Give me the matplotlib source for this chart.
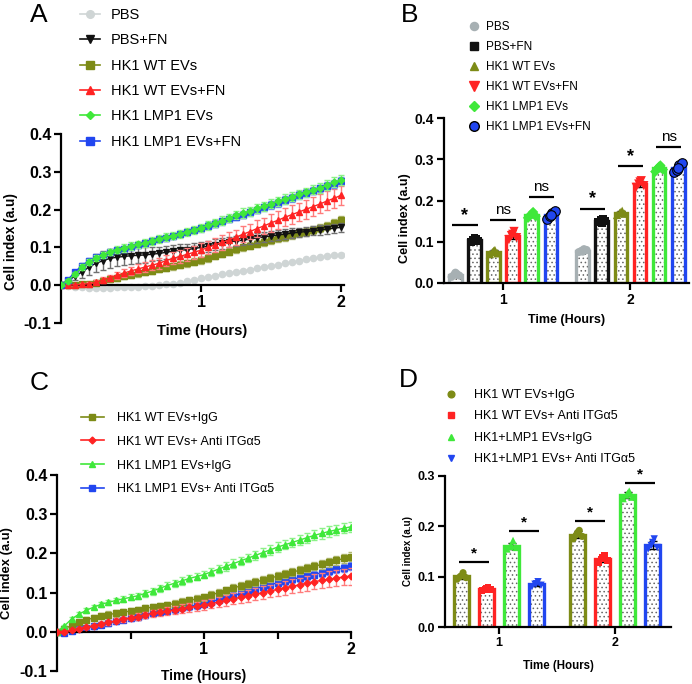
import numpy as np
import matplotlib
matplotlib.use('Agg')
import matplotlib.pyplot as plt
from matplotlib.lines import Line2D

plt.rcParams['font.family'] = ['Liberation Sans', 'DejaVu Sans']
plt.rcParams['axes.unicode_minus'] = False
plt.rcParams['hatch.linewidth'] = 0.6

# ---------------- data ----------------
TIME_H = [0.00, 0.05, 0.10, 0.15, 0.20, 0.25, 0.30, 0.35, 0.40, 0.45,
          0.50, 0.55, 0.60, 0.65, 0.70, 0.75, 0.80, 0.85, 0.90, 0.95,
          1.00, 1.05, 1.10, 1.15, 1.20, 1.25, 1.30, 1.35, 1.40, 1.45,
          1.50, 1.55, 1.60, 1.65, 1.70, 1.75, 1.80, 1.85, 1.90, 1.95, 2.00]

# Panel A
A_LABELS = ['PBS', 'PBS+FN', 'HK1 WT EVs', 'HK1 WT EVs+FN', 'HK1 LMP1 EVs', 'HK1 LMP1 EVs+FN']
A_PBS = [0.000, -0.003, -0.005, -0.006, -0.007, -0.007, -0.007, -0.007, -0.006, -0.006,
         -0.005, -0.004, -0.003, -0.002, 0.000, 0.002, 0.004, 0.006, 0.010, 0.014,
         0.018, 0.021, 0.025, 0.029, 0.032, 0.035, 0.038, 0.041, 0.045, 0.048,
         0.051, 0.054, 0.058, 0.061, 0.065, 0.068, 0.071, 0.074, 0.077, 0.079, 0.081]
A_PBS_ERR = [0.000, 0.002, 0.002, 0.002, 0.003, 0.003, 0.003, 0.003, 0.003, 0.003,
             0.003, 0.003, 0.003, 0.003, 0.003, 0.003, 0.003, 0.003, 0.003, 0.003,
             0.003, 0.003, 0.003, 0.003, 0.003, 0.003, 0.003, 0.003, 0.003, 0.003,
             0.003, 0.003, 0.003, 0.003, 0.003, 0.003, 0.003, 0.003, 0.003, 0.003, 0.003]
A_PBS_FN = [0.000, 0.012, 0.024, 0.035, 0.048, 0.058, 0.065, 0.071, 0.074, 0.076,
            0.078, 0.079, 0.080, 0.082, 0.084, 0.087, 0.090, 0.092, 0.094, 0.097,
            0.100, 0.103, 0.107, 0.111, 0.114, 0.117, 0.119, 0.122, 0.125, 0.128,
            0.130, 0.133, 0.135, 0.138, 0.140, 0.142, 0.144, 0.146, 0.148, 0.151, 0.153]
A_PBS_FN_ERR = [0.000, 0.005, 0.010, 0.015, 0.020, 0.024, 0.025, 0.025, 0.024, 0.023,
                0.022, 0.021, 0.020, 0.019, 0.018, 0.017, 0.017, 0.016, 0.016, 0.015,
                0.015, 0.015, 0.014, 0.014, 0.014, 0.014, 0.013, 0.013, 0.013, 0.013,
                0.013, 0.013, 0.013, 0.012, 0.012, 0.012, 0.012, 0.012, 0.012, 0.012, 0.012]
A_WT = [0.000, 0.000, 0.001, 0.002, 0.004, 0.007, 0.011, 0.016, 0.020, 0.024,
        0.028, 0.031, 0.034, 0.038, 0.042, 0.046, 0.050, 0.054, 0.058, 0.062,
        0.066, 0.071, 0.077, 0.083, 0.089, 0.095, 0.100, 0.105, 0.110, 0.115,
        0.119, 0.124, 0.128, 0.132, 0.137, 0.141, 0.146, 0.151, 0.157, 0.164, 0.172]
A_WT_ERR = [0.000, 0.002, 0.003, 0.004, 0.005, 0.006, 0.007, 0.008, 0.008, 0.008,
            0.008, 0.008, 0.008, 0.008, 0.008, 0.008, 0.009, 0.009, 0.009, 0.009,
            0.009, 0.009, 0.009, 0.009, 0.009, 0.009, 0.009, 0.009, 0.010, 0.010,
            0.010, 0.010, 0.010, 0.010, 0.010, 0.010, 0.010, 0.010, 0.010, 0.011, 0.011]
A_WT_FN = [0.000, 0.000, 0.001, 0.002, 0.004, 0.008, 0.014, 0.020, 0.026, 0.032,
           0.038, 0.043, 0.048, 0.053, 0.058, 0.065, 0.071, 0.076, 0.082, 0.087,
           0.093, 0.100, 0.107, 0.113, 0.120, 0.127, 0.135, 0.142, 0.150, 0.157,
           0.165, 0.172, 0.180, 0.187, 0.194, 0.201, 0.208, 0.215, 0.223, 0.230, 0.238]
A_WT_FN_ERR = [0.000, 0.002, 0.003, 0.004, 0.005, 0.006, 0.007, 0.008, 0.009, 0.010,
               0.011, 0.012, 0.013, 0.014, 0.015, 0.015, 0.016, 0.016, 0.017, 0.017,
               0.018, 0.018, 0.019, 0.019, 0.020, 0.020, 0.021, 0.021, 0.022, 0.022,
               0.023, 0.023, 0.024, 0.024, 0.024, 0.025, 0.025, 0.025, 0.025, 0.025, 0.025]
A_LMP1 = [0.000, 0.012, 0.030, 0.048, 0.062, 0.072, 0.080, 0.088, 0.094, 0.099,
          0.104, 0.108, 0.112, 0.117, 0.122, 0.127, 0.131, 0.136, 0.141, 0.146,
          0.152, 0.158, 0.164, 0.171, 0.178, 0.185, 0.191, 0.196, 0.203, 0.209,
          0.215, 0.222, 0.228, 0.234, 0.240, 0.246, 0.252, 0.258, 0.265, 0.272, 0.279]
A_LMP1_ERR = [0.000, 0.004, 0.006, 0.007, 0.008, 0.008, 0.009, 0.009, 0.009, 0.010,
              0.010, 0.010, 0.010, 0.010, 0.010, 0.010, 0.010, 0.011, 0.011, 0.011,
              0.011, 0.011, 0.011, 0.011, 0.011, 0.011, 0.012, 0.012, 0.012, 0.012,
              0.012, 0.012, 0.012, 0.012, 0.012, 0.012, 0.012, 0.013, 0.013, 0.013, 0.013]
A_LMP1_FN = [0.000, 0.015, 0.035, 0.052, 0.065, 0.074, 0.081, 0.087, 0.092, 0.097,
             0.102, 0.107, 0.111, 0.116, 0.121, 0.126, 0.131, 0.136, 0.141, 0.146,
             0.151, 0.157, 0.163, 0.169, 0.175, 0.181, 0.187, 0.193, 0.199, 0.206,
             0.212, 0.218, 0.225, 0.231, 0.238, 0.244, 0.250, 0.256, 0.262, 0.268, 0.275]
A_LMP1_FN_ERR = [0.000, 0.003, 0.005, 0.006, 0.006, 0.007, 0.007, 0.007, 0.007, 0.008,
                 0.008, 0.008, 0.008, 0.008, 0.008, 0.008, 0.008, 0.008, 0.009, 0.009,
                 0.009, 0.009, 0.009, 0.009, 0.009, 0.009, 0.009, 0.009, 0.009, 0.010,
                 0.010, 0.010, 0.010, 0.010, 0.010, 0.010, 0.010, 0.010, 0.010, 0.010, 0.010]

# Panel C
C_LABELS = ['HK1 WT EVs+IgG', 'HK1 WT EVs+ Anti ITG\u03b15', 'HK1 LMP1 EVs+IgG', 'HK1 LMP1 EVs+ Anti ITG\u03b15']
C_WT_IGG = [0.000, 0.008, 0.016, 0.024, 0.030, 0.036, 0.040, 0.044, 0.047, 0.050,
            0.053, 0.056, 0.060, 0.063, 0.066, 0.069, 0.072, 0.076, 0.080, 0.084,
            0.088, 0.094, 0.100, 0.106, 0.112, 0.117, 0.122, 0.127, 0.132, 0.137,
            0.142, 0.147, 0.152, 0.157, 0.162, 0.167, 0.172, 0.177, 0.182, 0.187, 0.192]
C_WT_IGG_ERR = [0.000, 0.004, 0.005, 0.006, 0.007, 0.007, 0.008, 0.008, 0.008, 0.008,
                0.008, 0.008, 0.008, 0.008, 0.008, 0.008, 0.009, 0.009, 0.009, 0.009,
                0.009, 0.009, 0.009, 0.009, 0.009, 0.010, 0.010, 0.010, 0.010, 0.010,
                0.010, 0.010, 0.010, 0.010, 0.010, 0.010, 0.011, 0.011, 0.011, 0.011, 0.011]
C_WT_ANTI = [0.000, 0.000, 0.004, 0.008, 0.012, 0.016, 0.020, 0.024, 0.028, 0.032,
             0.036, 0.039, 0.043, 0.047, 0.050, 0.053, 0.056, 0.059, 0.062, 0.065,
             0.068, 0.072, 0.076, 0.080, 0.084, 0.088, 0.092, 0.096, 0.100, 0.104,
             0.108, 0.112, 0.116, 0.120, 0.124, 0.128, 0.131, 0.134, 0.137, 0.140, 0.142]
C_WT_ANTI_ERR = [0.000, 0.002, 0.003, 0.004, 0.004, 0.005, 0.005, 0.006, 0.006, 0.007,
                 0.007, 0.008, 0.008, 0.009, 0.009, 0.010, 0.010, 0.011, 0.011, 0.012,
                 0.012, 0.012, 0.013, 0.013, 0.014, 0.014, 0.015, 0.015, 0.016, 0.016,
                 0.017, 0.017, 0.018, 0.018, 0.019, 0.019, 0.020, 0.020, 0.021, 0.021, 0.022]
C_LMP1_IGG = [0.000, 0.015, 0.033, 0.045, 0.055, 0.063, 0.070, 0.075, 0.080, 0.084,
              0.088, 0.092, 0.098, 0.104, 0.111, 0.118, 0.124, 0.130, 0.136, 0.141,
              0.146, 0.153, 0.160, 0.167, 0.174, 0.181, 0.188, 0.195, 0.202, 0.209,
              0.216, 0.222, 0.228, 0.234, 0.240, 0.246, 0.251, 0.256, 0.260, 0.264, 0.268]
C_LMP1_IGG_ERR = [0.000, 0.003, 0.004, 0.005, 0.006, 0.006, 0.007, 0.007, 0.007, 0.008,
                  0.008, 0.008, 0.008, 0.009, 0.009, 0.009, 0.009, 0.010, 0.010, 0.010,
                  0.010, 0.010, 0.011, 0.011, 0.011, 0.011, 0.011, 0.012, 0.012, 0.012,
                  0.012, 0.012, 0.012, 0.013, 0.013, 0.013, 0.013, 0.013, 0.013, 0.013, 0.013]
C_LMP1_ANTI = [0.000, -0.003, 0.002, 0.006, 0.010, 0.014, 0.018, 0.022, 0.027, 0.031,
               0.035, 0.039, 0.044, 0.048, 0.051, 0.054, 0.058, 0.062, 0.065, 0.068,
               0.072, 0.077, 0.082, 0.087, 0.092, 0.098, 0.104, 0.110, 0.115, 0.120,
               0.125, 0.129, 0.134, 0.138, 0.142, 0.146, 0.151, 0.155, 0.159, 0.163, 0.167]
C_LMP1_ANTI_ERR = [0.000, 0.003, 0.004, 0.005, 0.005, 0.006, 0.006, 0.007, 0.007, 0.007,
                   0.008, 0.008, 0.008, 0.008, 0.008, 0.008, 0.009, 0.009, 0.009, 0.009,
                   0.009, 0.009, 0.009, 0.009, 0.009, 0.009, 0.010, 0.010, 0.010, 0.010,
                   0.010, 0.010, 0.010, 0.010, 0.010, 0.010, 0.010, 0.010, 0.010, 0.010, 0.010]

# Panel B (replicates per bar), groups at 1 h and 2 h
B_GROUPS = [1, 2]
B_REPS_1H = [[0.015, 0.020, 0.022, 0.018, 0.025],
             [0.100, 0.105, 0.108, 0.102, 0.110],
             [0.070, 0.075, 0.080, 0.072, 0.078],
             [0.105, 0.115, 0.125, 0.110, 0.118],
             [0.158, 0.165, 0.172, 0.162, 0.168],
             [0.155, 0.162, 0.170, 0.175, 0.165]]
B_REPS_2H = [[0.075, 0.078, 0.082, 0.080, 0.076],
             [0.148, 0.152, 0.155, 0.150, 0.146],
             [0.165, 0.170, 0.175, 0.168, 0.172],
             [0.232, 0.240, 0.248, 0.236, 0.245],
             [0.270, 0.278, 0.285, 0.275, 0.282],
             [0.268, 0.275, 0.285, 0.290, 0.278]]
B_SIG_1H = [('*', 0.140), ('ns', 0.153), ('ns', 0.208)]
B_SIG_2H = [('*', 0.180), ('*', 0.283), ('ns', 0.329)]

# Panel D
D_LABELS = ['HK1 WT EVs+IgG', 'HK1 WT EVs+ Anti ITG\u03b15', 'HK1+LMP1 EVs+IgG', 'HK1+LMP1 EVs+ Anti ITG\u03b15']
D_REPS_1H = [[0.095, 0.100, 0.108, 0.098, 0.102],
             [0.072, 0.075, 0.078, 0.074, 0.076],
             [0.155, 0.160, 0.172, 0.158, 0.162],
             [0.080, 0.085, 0.090, 0.083, 0.086]]
D_REPS_2H = [[0.175, 0.183, 0.192, 0.180, 0.188],
             [0.128, 0.135, 0.142, 0.132, 0.138],
             [0.255, 0.262, 0.270, 0.258, 0.266],
             [0.155, 0.162, 0.175, 0.158, 0.168]]
D_SIG_1H = [('*', 0.130), ('*', 0.191)]
D_SIG_2H = [('*', 0.211), ('*', 0.286)]

# ---------------- style ----------------
GRAY_L = '#cfd5d5'
GRAY = '#a7b0b3'
OLIVE = '#7d8b16'
RED = '#ff2323'
GREEN = '#3fe83a'
BLUE = '#2146f0'
BLACK = '#111111'

W, H = 692, 684
fig = plt.figure(figsize=(W / 100, H / 100), dpi=100)


def fr(x0, y_top, x1, y_bot):
    return [x0 / W, 1 - y_bot / H, (x1 - x0) / W, (y_bot - y_top) / H]


def style_axes(ax, fs):
    for s in ['top', 'right']:
        ax.spines[s].set_visible(False)
    for s in ['left', 'bottom']:
        ax.spines[s].set_linewidth(1.6)
    ax.tick_params(width=1.6, length=5, labelsize=fs, pad=2)
    for lab in ax.get_xticklabels() + ax.get_yticklabels():
        lab.set_fontweight('bold')


def light(c, a=0.55):
    rgb = np.array(matplotlib.colors.to_rgb(c))
    return tuple(rgb * a + (1 - a))


# ---------- Panel A ----------
axA = fig.add_axes(fr(61, 134, 344, 323))
a_series = [
    (A_PBS, A_PBS_ERR, GRAY_L, 'o', 4.5, 1),
    (A_PBS_FN, A_PBS_FN_ERR, BLACK, 'v', 4.5, 3),
    (A_WT, A_WT_ERR, OLIVE, 's', 4.5, 2),
    (A_WT_FN, A_WT_FN_ERR, RED, '^', 4.5, 4),
    (A_LMP1, A_LMP1_ERR, GREEN, 'D', 3.5, 6),
    (A_LMP1_FN, A_LMP1_FN_ERR, BLUE, 's', 4.5, 5),
]
handlesA = []
for (vals, err, col, mk, ms, z), lab in zip(a_series, A_LABELS):
    axA.errorbar(TIME_H, vals, yerr=err, color=col, marker=mk, ms=ms, lw=1.0,
                 ecolor=light(col, 0.6), elinewidth=1.0, capsize=2.5, capthick=1.0,
                 zorder=z)
    handlesA.append(Line2D([], [], color=col, marker=mk, ms=ms + 1, lw=1.2))
axA.set_xlim(0, 2.02)
axA.set_ylim(-0.1, 0.4)
axA.spines['bottom'].set_position(('data', 0))
axA.set_xticks([1, 2])
axA.set_xticklabels(['1', '2'])
A_YT = [-0.1, 0.0, 0.1, 0.2, 0.3, 0.4]
axA.set_yticks(A_YT)
axA.set_yticklabels([f'{v:.1f}' for v in A_YT])
style_axes(axA, 11.5)
axA.set_xlabel('Time (Hours)', fontsize=10.5, fontweight='bold')
axA.xaxis.set_label_coords(0.5, -0.005)
axA.set_ylabel('Cell index (a.u)', fontsize=9.8, fontweight='bold')
axA.yaxis.set_label_coords(-0.152, 0.43)
fig.legend(handlesA, A_LABELS, loc='upper left', bbox_to_anchor=(80 / W, 1 - 8 / H),
           frameon=False, fontsize=10.5, borderpad=0, borderaxespad=0,
           handlelength=1.4, handletextpad=0.7, labelspacing=0.78)

# ---------- Panel C ----------
axC = fig.add_axes(fr(57, 475, 351, 671))
c_series = [
    (C_WT_IGG, C_WT_IGG_ERR, OLIVE, 's', 5, 3),
    (C_WT_ANTI, C_WT_ANTI_ERR, RED, 'D', 3.5, 5),
    (C_LMP1_IGG, C_LMP1_IGG_ERR, GREEN, '^', 5, 4),
    (C_LMP1_ANTI, C_LMP1_ANTI_ERR, BLUE, 's', 5, 2),
]
handlesC = []
for (vals, err, col, mk, ms, z), lab in zip(c_series, C_LABELS):
    axC.errorbar(TIME_H, vals, yerr=err, color=col, marker=mk, ms=ms, lw=1.0,
                 ecolor=light(col, 0.6), elinewidth=1.0, capsize=2.5, capthick=1.0,
                 zorder=z)
    handlesC.append(Line2D([], [], color=col, marker=mk, ms=ms, lw=1.2))
axC.set_xlim(0, 2.0)
axC.set_ylim(-0.1, 0.4)
axC.spines['bottom'].set_position(('data', 0))
axC.set_xticks([1, 2])
axC.set_xticklabels(['1', '2'])
axC.set_xticks([0.5, 1.5], minor=True)
axC.tick_params(axis='x', which='minor', length=5, width=1.6)
axC.set_yticks(A_YT)
axC.set_yticklabels([f'{v:.1f}' for v in A_YT])
style_axes(axC, 11.5)
axC.set_xlabel('Time (Hours)', fontsize=10, fontweight='bold')
axC.xaxis.set_label_coords(0.5, 0.01)
axC.set_ylabel('Cell index (a.u)', fontsize=9.4, fontweight='bold')
axC.yaxis.set_label_coords(-0.15, 0.5)
fig.legend(handlesC, C_LABELS, loc='upper left', bbox_to_anchor=(81 / W, 1 - 412 / H),
           frameon=False, fontsize=9, borderpad=0, borderaxespad=0,
           handlelength=1.8, handletextpad=1.1, labelspacing=0.94)


# ---------- bar helper ----------
def bar_panel(ax, groups, reps_by_group, colors, markers, msizes, edgecols,
              step, width, jitter):
    n = len(colors)
    offs = [(i - (n - 1) / 2) * step for i in range(n)]
    for g, reps in zip(groups, reps_by_group):
        for i, r in enumerate(reps):
            x = g + offs[i]
            m = np.mean(r)
            sd = np.std(r, ddof=1)
            ax.bar(x, m, width=width, facecolor='white', edgecolor='#666666',
                   linewidth=0, hatch='....', zorder=1)
            ax.bar(x, m, width=width, fill=False, edgecolor=colors[i],
                   linewidth=2.4, zorder=2)
            ax.errorbar(x, m, yerr=sd, color='black', lw=1, capsize=3,
                        capthick=1, zorder=3)
            xs = [x + j * width for j in jitter]
            ax.scatter(xs, r, marker=markers[i], s=msizes[i], color=colors[i],
                       edgecolors=edgecols[i], linewidths=0.8, zorder=4)
    return offs


def sig(ax, groups, offs, sigs_by_group, half, star_fs, ns_fs):
    for g, sigs in zip(groups, sigs_by_group):
        for k, (lab, y) in enumerate(sigs):
            xc = g + (offs[2 * k] + offs[2 * k + 1]) / 2
            ax.plot([xc - half, xc + half], [y, y], color='black', lw=1.6,
                    solid_capstyle='butt', zorder=5)
            if lab == '*':
                ax.text(xc, y + 0.003, lab, ha='center', va='bottom',
                        fontsize=star_fs, fontweight='bold')
            else:
                ax.text(xc, y + 0.008, lab, ha='center', va='bottom',
                        fontsize=ns_fs)


# ---------- Panel B ----------
axB = fig.add_axes(fr(444, 118, 689, 283))
B_COLORS = [GRAY, BLACK, OLIVE, RED, GREEN, BLUE]
B_MARKERS = ['o', 's', '^', 'v', 'D', 'o']
B_MS = [34, 30, 36, 44, 28, 48]
B_EDGE = ['none', 'none', 'none', 'none', 'none', 'black']
offsB = bar_panel(axB, B_GROUPS, [B_REPS_1H, B_REPS_2H], B_COLORS, B_MARKERS,
                  B_MS, B_EDGE, 0.15, 0.1, [-0.3, -0.1, 0.1, 0.3, 0.0])
sig(axB, B_GROUPS, offsB, [B_SIG_1H, B_SIG_2H], 0.1, 13, 11)
axB.set_xlim(0.535, 2.46)
axB.set_ylim(0, 0.4)
B_YT = [0.0, 0.1, 0.2, 0.3, 0.4]
axB.set_yticks(B_YT)
axB.set_yticklabels([f'{v:.1f}' for v in B_YT])
axB.set_xticks(B_GROUPS)
axB.set_xticklabels(['1', '2'])
style_axes(axB, 10)
axB.set_xlabel('Time (Hours)', fontsize=9, fontweight='bold', labelpad=5)
axB.set_ylabel('Cell index (a.u)', fontsize=9.1, fontweight='bold')
axB.yaxis.set_label_coords(-0.135, 0.394)
hB = [Line2D([], [], ls='none', marker=m, color=c, ms=np.sqrt(s) * 1.0,
             markeredgecolor=(e if e != 'none' else c))
      for m, c, s, e in zip(B_MARKERS, B_COLORS, B_MS, B_EDGE)]
fig.legend(hB, A_LABELS, loc='upper left', bbox_to_anchor=(468 / W, 1 - 21 / H),
           frameon=False, fontsize=8.5, borderpad=0, borderaxespad=0,
           handlelength=1.0, handletextpad=0.5, labelspacing=0.68)

# ---------- Panel D ----------
axD = fig.add_axes(fr(445, 476, 671, 627))
D_COLORS = [OLIVE, RED, GREEN, BLUE]
D_MARKERS = ['o', 's', '^', 'v']
D_MS = [26, 24, 28, 28]
D_EDGE = ['none', 'none', 'none', 'none']
offsD = bar_panel(axD, B_GROUPS, [D_REPS_1H, D_REPS_2H], D_COLORS, D_MARKERS,
                  D_MS, D_EDGE, 0.215, 0.13, [-0.3, -0.1, 0.1, 0.3, 0.0])
sig(axD, B_GROUPS, offsD, [D_SIG_1H, D_SIG_2H], 0.13, 11, 10)
axD.set_xlim(0.535, 2.48)
axD.set_ylim(0, 0.3)
D_YT = [0.0, 0.1, 0.2, 0.3]
axD.set_yticks(D_YT)
axD.set_yticklabels([f'{v:.1f}' for v in D_YT])
axD.set_xticks(B_GROUPS)
axD.set_xticklabels(['1', '2'])
style_axes(axD, 9)
axD.set_xlabel('Time (Hours)', fontsize=8.3, fontweight='bold', labelpad=8)
axD.set_ylabel('Cell index (a.u)', fontsize=7, fontweight='bold')
axD.yaxis.set_label_coords(-0.143, 0.5)
hD = [Line2D([], [], ls='none', marker=m, color=c, ms=np.sqrt(s) * 0.95)
      for m, c, s in zip(D_MARKERS, D_COLORS, D_MS)]
fig.legend(hD, D_LABELS, loc='upper left', bbox_to_anchor=(445 / W, 1 - 389 / H),
           frameon=False, fontsize=9, borderpad=0, borderaxespad=0,
           handlelength=1.0, handletextpad=1.3, labelspacing=0.76)

# ---------- panel letters ----------
for txt, x, y in [('A', 30, 3), ('B', 401, 3), ('C', 30, 371), ('D', 399, 368)]:
    fig.text(x / W, 1 - y / H, txt, fontsize=19, ha='left', va='top')

fig.savefig('out.png', dpi=100)
